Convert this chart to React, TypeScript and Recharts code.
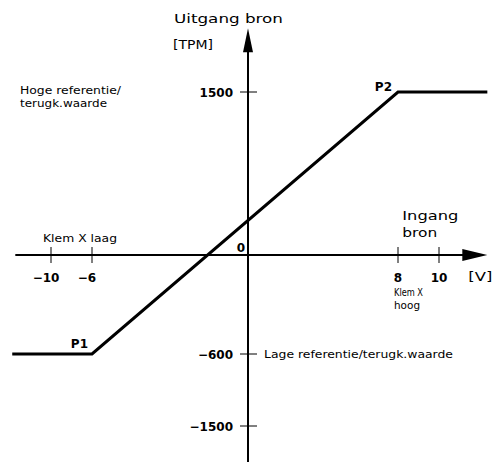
import React from 'react';
import { LineChart, Line, XAxis, YAxis, ReferenceLine, ReferenceDot } from 'recharts';

// ---- data ----
const inputVolts = [-13.8, -6, 8, 12.5];
const outputRpm = [-600, -600, 1500, 1500];
const xTickValues = [-10, -6, 8, 10];
const xTickLabels = ['\u221210', '\u22126', '8', '10'];
const yTickValues = [1500, -600, -1500];
const yTickLabels = ['1500', '\u2212600', '\u22121500'];
const xAxisEnds = [-13.5, 12.5];
const yAxisEnds = [-1950, 2110];
const pointNames = ['P1', 'P2'];
const pointX = [-6, 8];
const pointY = [-600, 1500];

const data = inputVolts.map((v, i) => ({ vin: v, out: outputRpm[i] }));

const W = 497;
const H = 462;
const FONT = '"DejaVu Sans", Verdana, sans-serif';

// piecewise linear (schematic) axis scale, d3-like interface
function makePiecewiseScale(knots: number[], fractions: number[]): any {
  let dom: number[] = [knots[0], knots[knots.length - 1]];
  let rng: number[] = [0, 1];
  const fracOf = (v: number) => {
    const n = knots.length;
    let i = 0;
    while (i < n - 2 && v > knots[i + 1]) i++;
    const a = knots[i];
    const b = knots[i + 1];
    return fractions[i] + ((v - a) / (b - a)) * (fractions[i + 1] - fractions[i]);
  };
  const scale: any = (v: any) => {
    const num = Number(v);
    if (!Number.isFinite(num)) return undefined;
    return rng[0] + fracOf(num) * (rng[rng.length - 1] - rng[0]);
  };
  scale.domain = (d?: any[]) => {
    if (d === undefined) return dom.slice();
    dom = d.map(Number);
    return scale;
  };
  scale.range = (r?: any[]) => {
    if (r === undefined) return rng.slice();
    rng = r.map(Number);
    return scale;
  };
  scale.copy = () => makePiecewiseScale(knots, fractions).domain(dom).range(rng);
  scale.ticks = () => knots.slice();
  scale.tickFormat = () => (v: any) => String(v);
  scale.nice = () => scale;
  scale.clamp = () => scale;
  scale.invert = (p: number) => {
    const f = (p - rng[0]) / (rng[rng.length - 1] - rng[0]);
    let i = 0;
    while (i < fractions.length - 2 && f > fractions[i + 1]) i++;
    return knots[i] + ((f - fractions[i]) / (fractions[i + 1] - fractions[i])) * (knots[i + 1] - knots[i]);
  };
  return scale;
}

const xScale = makePiecewiseScale(
  [-15, -10, -6, 0, 8, 10, 13],
  [0, 51, 92, 248, 398, 439, 497].map((p) => p / W)
);
const yScale = makePiecewiseScale(
  [-1950, -1500, -600, 0, 1500, 2380],
  [462, 426, 354, 255, 92, 0].map((p) => (H - p) / H)
);

function Txt(props: {
  x: number;
  y: number;
  children: React.ReactNode;
  size?: number;
  bold?: boolean;
  anchor?: 'start' | 'middle' | 'end';
  len?: number;
}) {
  const { x, y, children, size = 11, bold = false, anchor = 'start', len } = props;
  return (
    <text
      x={x}
      y={y}
      fontFamily={FONT}
      fontSize={size}
      fontWeight={bold ? 'bold' : 'normal'}
      textAnchor={anchor}
      fill="#000"
      textLength={len}
      lengthAdjust={len ? 'spacingAndGlyphs' : undefined}
    >
      {children}
    </text>
  );
}

const mark = (key: string, x: number, y: number, render: (cx: number, cy: number) => React.ReactElement) => (
  <ReferenceDot
    key={key}
    x={x}
    y={y}
    r={1}
    ifOverflow="visible"
    shape={(p: any) => render(p.cx, p.cy)}
  />
);

export default function App() {
  return (
    <div style={{ position: 'absolute', left: 0, top: 0, width: W, height: H, background: '#fff' }}>
      <LineChart width={W} height={H} data={data} margin={{ top: 0, right: 0, bottom: 0, left: 0 }}>
        <XAxis dataKey="vin" type="number" domain={[-15, 13]} scale={xScale} ticks={xTickValues} hide />
        <YAxis type="number" domain={[-1950, 2380]} scale={yScale} ticks={yTickValues} hide />
        <ReferenceLine
          segment={[{ x: xAxisEnds[0], y: 0 }, { x: xAxisEnds[1] - 0.6, y: 0 }]}
          stroke="#000"
          strokeWidth={2}
          ifOverflow="visible"
        />
        <ReferenceLine
          segment={[{ x: 0, y: yAxisEnds[0] }, { x: 0, y: yAxisEnds[1] - 100 }]}
          stroke="#000"
          strokeWidth={2}
          ifOverflow="visible"
        />
        {mark('xarrow', xAxisEnds[1], 0, (cx, cy) => (
          <g>
            <polygon points={`${cx},${cy} ${cx - 25},${cy - 6} ${cx - 25},${cy + 6}`} fill="#000" />
            <Txt x={cx - 19} y={cy + 26} size={13} len={24}>[V]</Txt>
            <Txt x={cx - 85} y={cy - 35} size={13} len={56}>Ingang</Txt>
            <Txt x={cx - 85} y={cy - 18} size={13} len={35}>bron</Txt>
          </g>
        ))}
        {mark('yarrow', 0, yAxisEnds[1], (cx, cy) => (
          <g>
            <polygon points={`${cx},${cy} ${cx - 5},${cy + 24} ${cx + 5},${cy + 24}`} fill="#000" />
            <Txt x={cx - 74} y={cy - 5} size={13} len={109}>Uitgang bron</Txt>
            <Txt x={cx - 75} y={cy + 21} size={13} len={40}>[TPM]</Txt>
          </g>
        ))}
        {xTickValues.map((v, i) =>
          mark('xt' + i, v, 0, (cx, cy) => {
            const digits = xTickLabels[i].replace('\u2212', '').length;
            return (
              <g>
                <line x1={cx} y1={cy - 8} x2={cx} y2={cy + 8} stroke="#000" strokeWidth={1} />
                <Txt x={cx + digits * 4.2} y={cy + 27} size={12} bold anchor="end">
                  {xTickLabels[i]}
                </Txt>
              </g>
            );
          })
        )}
        {yTickValues.map((v, i) =>
          mark('yt' + i, 0, v, (cx, cy) => (
            <g>
              <line x1={cx - 8} y1={cy} x2={cx + 9} y2={cy} stroke="#000" strokeWidth={1} />
              <Txt x={cx - 15} y={cy + 5} size={12} bold anchor="end">
                {yTickLabels[i]}
              </Txt>
            </g>
          ))
        )}
        {mark('origin', 0, 0, (cx, cy) => (
          <Txt x={cx - 3} y={cy - 3} size={12} bold anchor="end">0</Txt>
        ))}
        {mark('klemlaag', xTickValues[0], 0, (cx, cy) => (
          <Txt x={cx - 8} y={cy - 13} size={11} len={74}>Klem X laag</Txt>
        ))}
        {mark('klemhoog', xTickValues[2], 0, (cx, cy) => (
          <g>
            <Txt x={cx - 4} y={cy + 41} size={10} len={29}>Klem X</Txt>
            <Txt x={cx - 4} y={cy + 54} size={10} len={26}>hoog</Txt>
          </g>
        ))}
        {mark('hoge', 0, yTickValues[0], (cx, cy) => (
          <g>
            <Txt x={cx - 228} y={cy + 2} size={11} len={101}>Hoge referentie/</Txt>
            <Txt x={cx - 228} y={cy + 15} size={11} len={87}>terugk.waarde</Txt>
          </g>
        ))}
        {mark('lage', 0, yTickValues[1], (cx, cy) => (
          <Txt x={cx + 16} y={cy + 4} size={11} len={189}>Lage referentie/terugk.waarde</Txt>
        ))}
        {pointNames.map((name, i) =>
          mark('pt' + i, pointX[i], pointY[i], (cx, cy) => (
            <Txt x={cx - (i === 0 ? 4 : 6)} y={cy - (i === 0 ? 6 : 1)} size={12} bold anchor="end">
              {name}
            </Txt>
          ))
        )}
        <Line
          dataKey="out"
          type="linear"
          stroke="#000"
          strokeWidth={3}
          dot={false}
          activeDot={false}
          legendType="none"
          isAnimationActive={false}
        />
      </LineChart>
    </div>
  );
}
